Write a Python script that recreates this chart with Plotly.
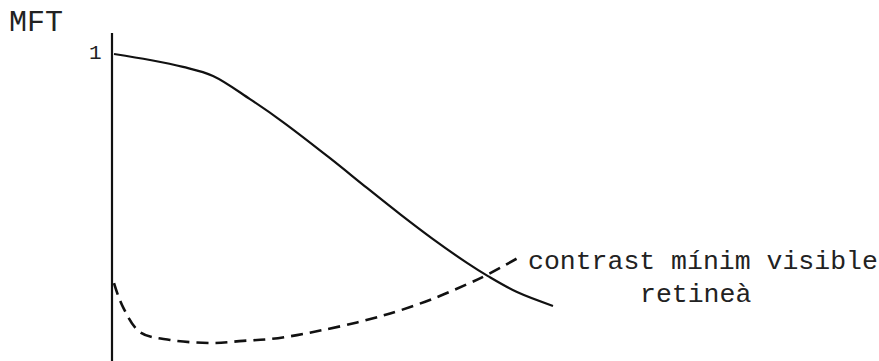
import plotly.graph_objects as go

# MFT curve (solid) – spatial frequency (arbitrary units) vs modulation
mft_x = [1, 37, 70, 100, 137, 170, 217, 254, 287, 320, 354, 375, 404, 440]
mft_y = [1.0, 0.980, 0.957, 0.927, 0.850, 0.774, 0.654, 0.555, 0.468, 0.385, 0.306, 0.262, 0.209, 0.163]

# Minimum visible contrast of the retina (dashed)
ret_x = [1, 10, 27, 57, 100, 130, 157, 184, 210, 244, 270, 287, 320, 354, 375, 409]
ret_y = [0.239, 0.159, 0.076, 0.050, 0.040, 0.047, 0.053, 0.066, 0.083, 0.108, 0.131, 0.148, 0.187, 0.235, 0.268, 0.330]

W, H = 879, 361
FONT = "Liberation Mono"

fig = go.Figure()
fig.add_trace(go.Scatter(x=mft_x, y=mft_y, mode="lines",
                         line=dict(color="#111", width=2.2, shape="spline", smoothing=1.0),
                         hoverinfo="skip", showlegend=False))
fig.add_trace(go.Scatter(x=ret_x, y=ret_y, mode="lines",
                         line=dict(color="#111", width=2.6, shape="spline", dash="12px,7px"),
                         hoverinfo="skip", showlegend=False))

# vertical axis line
fig.add_shape(type="line", xref="x", yref="y", x0=-1, x1=-1, y0=1.07, y1=-0.03,
              line=dict(color="#111", width=2.2))

def px(x):
    return x / W

def py(y):
    return 1 - y / H

fig.add_annotation(text="MFT", x=px(36), y=py(23), xref="paper", yref="paper",
                   xanchor="center", yanchor="middle",
                   showarrow=False, font=dict(family=FONT, size=30, color="#222"))
fig.add_annotation(text="1", x=px(104), y=py(53), xref="paper", yref="paper",
                   xanchor="right", yanchor="middle",
                   showarrow=False, font=dict(family=FONT, size=21, color="#222"))
fig.add_annotation(text="contrast mínim visible", x=px(526), y=py(262), xref="paper", yref="paper",
                   xanchor="left", yanchor="middle",
                   showarrow=False, font=dict(family=FONT, size=26.5, color="#222"))
fig.add_annotation(text="retineà", x=px(695), y=py(295), xref="paper", yref="paper",
                   xanchor="center", yanchor="middle",
                   showarrow=False, font=dict(family=FONT, size=26.5, color="#222"))

fig.update_layout(
    width=W, height=H,
    margin=dict(l=0, r=0, t=0, b=0),
    paper_bgcolor="white", plot_bgcolor="white",
    xaxis=dict(range=[-113, W - 113], visible=False, fixedrange=True),
    yaxis=dict(range=[(355 - H) / 301, 355 / 301], visible=False, fixedrange=True),
)

fig.write_html("out.html", config={"displayModeBar": False, "staticPlot": True},
               post_script="document.body.style.margin='0';document.body.style.overflow='hidden';")
